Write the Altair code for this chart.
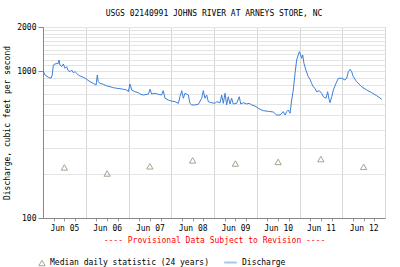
import altair as alt
import pandas as pd

# Discharge readings: hours since 2012-06-05 00:00 and discharge (cfs)
hours = [0.0, 1.1, 3.0, 4.5, 5.2, 5.8, 6.7, 8.6, 9.0, 9.5, 10.5, 11.4, 12.4, 13.3, 14.2,
         15.2, 16.1, 17.0, 18.0, 18.9, 19.8, 20.8, 22.6, 24.5, 26.4, 28.2, 29.8, 30.5,
         31.0, 32.0, 33.9, 35.8, 37.6, 39.5, 41.4, 43.2, 45.1, 47.0, 47.9, 48.8, 49.8,
         51.6, 53.5, 54.5, 56.3, 59.2, 60.1, 61.0, 62.9, 64.7, 66.6, 67.5, 68.5, 70.3,
         72.3, 74.1, 76.0, 76.9, 77.9, 78.8, 79.7, 81.6, 82.5, 83.5, 85.3, 87.2, 89.1,
         90.0, 90.9, 91.9, 92.8, 94.7, 96.6, 97.5, 99.4, 100.3, 101.2, 102.2, 103.1,
         104.0, 105.0, 105.9, 106.8, 108.7, 110.2, 111.0, 112.4, 114.4, 115.8, 117.2,
         119.0, 121.8, 123.7, 126.5, 129.3, 131.2, 133.1, 134.9, 135.9, 136.8, 137.7,
         138.7, 139.6, 140.5, 141.5, 142.4, 143.3, 143.9, 144.7, 145.2, 145.8, 146.5,
         147.6, 148.9, 149.9, 150.8, 151.7, 152.7, 153.6, 155.1, 156.4, 157.4, 158.9,
         159.8, 160.6, 161.1, 162.1, 163.0, 164.5, 165.8, 167.7, 169.5, 170.5, 171.4,
         172.4, 173.3, 174.2, 176.1, 178.9, 181.7, 184.5, 187.3, 190.2]
discharge = [1008, 942, 909, 895, 942, 1102, 1119, 1132, 1192, 1102, 1073, 1119, 1046, 1073,
             1008, 992, 1019, 977, 992, 968, 942, 927, 909, 881, 848, 827, 805, 942, 848,
             827, 814, 793, 784, 772, 765, 760, 753, 745, 725, 818, 745, 725, 714, 699,
             688, 699, 753, 699, 707, 696, 688, 737, 654, 636, 625, 620, 604, 670, 737,
             654, 707, 688, 604, 589, 589, 595, 654, 737, 654, 688, 620, 610, 604, 620,
             610, 688, 604, 707, 589, 670, 598, 654, 598, 604, 670, 598, 610, 598, 604,
             589, 579, 550, 538, 533, 527, 503, 503, 530, 503, 530, 544, 517, 636, 745,
             968, 1192, 1289, 1358, 1289, 1224, 1289, 1132, 1019, 917, 881, 827, 784, 765,
             725, 737, 707, 670, 654, 725, 643, 610, 670, 745, 827, 895, 895, 871, 895,
             992, 1030, 992, 917, 848, 784, 745, 714, 681, 643]

# Median daily statistic (24 years), one per day at noon
median_days = [5, 6, 7, 8, 9, 10, 11, 12]
median_vals = [221, 201, 225, 247, 235, 241, 252, 223]

y_grid = [100, 200, 300, 400, 500, 600, 700, 800, 900, 1000,
          1100, 1200, 1300, 1400, 1500, 1600, 1700, 1800, 1900, 2000]
y_labels = [100, 1000, 2000]

S_MED = "Median daily statistic (24 years)"
S_DIS = "Discharge"

base = pd.Timestamp("2012-06-05")
flow = pd.DataFrame({
    "time": [(base + pd.Timedelta(hours=h)).strftime("%Y-%m-%dT%H:%M:%S") for h in hours],
    "value": discharge,
    "series": S_DIS,
})
med = pd.DataFrame({
    "time": [f"2012-06-{d:02d}T12:00:00" for d in median_days],
    "value": median_vals,
    "series": S_MED,
})

x_vals = [alt.DateTime(year=2012, month=6, date=d, hours=h)
          for d in range(5, 13) for h in (0, 6, 12, 18)] + [alt.DateTime(year=2012, month=6, date=13, hours=0)]

FONT = "DejaVu Sans Mono"
label_test = "indexof(" + str(y_labels) + ", datum.value) >= 0"

x_enc = alt.X(
    "time:T",
    scale=alt.Scale(domain=[alt.DateTime(year=2012, month=6, date=5),
                            alt.DateTime(year=2012, month=6, date=13)]),
    axis=alt.Axis(
        values=x_vals,
        labelExpr="hours(datum.value) == 12 ? timeFormat(datum.value, '%b %d') : ''",
        gridOpacity=alt.condition("hours(datum.value) == 0", alt.value(1), alt.value(0)),
        tickOpacity=alt.condition("hours(datum.value) == 0", alt.value(0), alt.value(1)),
        gridColor="#d6d6d6",
        tickSize=3,
        tickColor="#999999",
        labelPadding=3,
        labelFlush=False,
        labelOverlap=False,
        title="---- Provisional Data Subject to Revision ----",
        titleColor="#ff0000",
        titlePadding=4,
    ),
)
y_enc = alt.Y(
    "value:Q",
    scale=alt.Scale(type="log", domain=[100, 2000], nice=False),
    axis=alt.Axis(
        values=y_grid,
        labelExpr=label_test + " ? datum.value : ''",
        tickOpacity=alt.condition(label_test, alt.value(1), alt.value(0)),
        gridColor="#e4e4e4",
        tickSize=5,
        tickColor="#888888",
        labelPadding=2,
        title="Discharge, cubic feet per second",
        titlePadding=5,
    ),
)

leg_common = dict(orient="none", direction="horizontal", title=None,
                  labelFont=FONT, labelFontSize=8, labelColor="#000000")

line = alt.Chart(flow).mark_line(strokeWidth=1, clip=True).encode(
    x=x_enc, y=y_enc,
    color=alt.Color(
        "series:N",
        scale=alt.Scale(domain=[S_DIS], range=["#3c7fd8"]),
        legend=alt.Legend(legendX=180, legendY=228, symbolType="stroke",
                          symbolSize=160, symbolStrokeWidth=2, symbolOpacity=0.45,
                          **leg_common),
    ),
)
points = alt.Chart(med).mark_point(filled=False, size=40, strokeWidth=1,
                                   color="#8b7b63").encode(
    x=x_enc, y=y_enc,
    shape=alt.Shape(
        "series:N",
        scale=alt.Scale(domain=[S_MED], range=["triangle-up"]),
        legend=alt.Legend(legendX=-5, legendY=232, symbolSize=40, symbolStrokeWidth=1,
                          symbolStrokeColor="#8b7b63", **leg_common),
    ),
)

chart = alt.layer(line, points).resolve_legend(color="independent", shape="independent").properties(
    width=342, height=191,
    title=alt.TitleParams("USGS 02140991 JOHNS RIVER AT ARNEYS STORE, NC",
                          font=FONT, fontSize=8, fontWeight="normal", offset=5, anchor="middle"),
    autosize=alt.AutoSizeParams(type="none"),
    padding={"left": 43, "top": 27, "right": 15, "bottom": 49},
).configure(
    background="#ffffff",
).configure_view(
    stroke="#999999", strokeWidth=1,
).configure_axis(
    labelFont=FONT, labelFontSize=8, labelFontWeight="normal", labelColor="#000000",
    titleFont=FONT, titleFontSize=8, titleFontWeight="normal", titleColor="#000000",
    domainColor="#888888", gridWidth=1,
)

chart.save("out.html", embed_options={"renderer": "svg", "actions": False})
